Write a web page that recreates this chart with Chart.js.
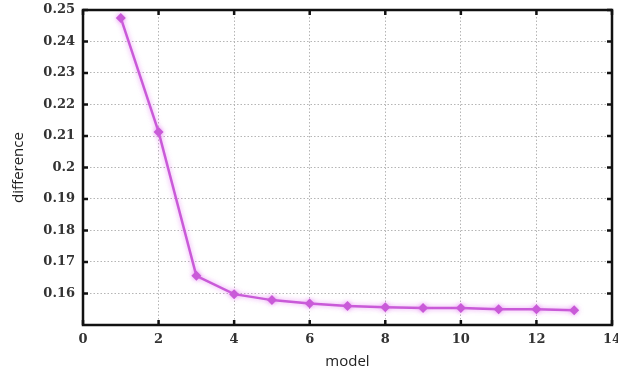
<!DOCTYPE html>
<html>
<head>
<meta charset="utf-8">
<script src="https://cdn.jsdelivr.net/npm/chart.js@4/dist/chart.umd.min.js"></script>
<style>
  html, body { margin: 0; padding: 0; background: #fff; }
  #wrap { width: 618px; height: 383px; }
</style>
</head>
<body>
<div id="wrap"><canvas id="diffChart"></canvas></div>
<script>
// model number and the difference
const models = [1, 2, 3, 4, 5, 6, 7, 8, 9, 10, 11, 12, 13];
const differences = [0.2475, 0.2113, 0.1656, 0.1598, 0.1579, 0.1568, 0.1560, 0.1556, 0.1554, 0.1554, 0.1550, 0.1550, 0.1547];
const xTicks = [0, 2, 4, 6, 8, 10, 12, 14];
const yTicks = [0.16, 0.17, 0.18, 0.19, 0.2, 0.21, 0.22, 0.23, 0.24, 0.25];

const lineColor = '#c95ad8';

// black frame with small inward ticks, like the gnuplot original
const framePlugin = {
  id: 'frame',
  afterDraw(chart) {
    const { ctx, chartArea: a, scales } = chart;
    ctx.save();
    ctx.strokeStyle = '#111';
    ctx.lineWidth = 2.5;
    ctx.strokeRect(a.left, a.top, a.right - a.left, a.bottom - a.top);
    xTicks.forEach(v => {
      const px = scales.x.getPixelForValue(v);
      ctx.beginPath();
      ctx.moveTo(px, a.bottom); ctx.lineTo(px, a.bottom - 5);
      ctx.moveTo(px, a.top); ctx.lineTo(px, a.top + 5);
      ctx.stroke();
    });
    yTicks.forEach(v => {
      const py = scales.y.getPixelForValue(v);
      ctx.beginPath();
      ctx.moveTo(a.left, py); ctx.lineTo(a.left + 5, py);
      ctx.moveTo(a.right, py); ctx.lineTo(a.right - 5, py);
      ctx.stroke();
    });
    ctx.restore();
  }
};

// soft glow on the line
const glowPlugin = {
  id: 'glow',
  beforeDatasetDraw(chart) {
    chart.ctx.save();
    chart.ctx.shadowColor = 'rgba(225, 110, 240, 0.7)';
    chart.ctx.shadowBlur = 5;
  },
  afterDatasetDraw(chart) {
    chart.ctx.restore();
  }
};

const tickFont = { family: '"DejaVu Serif"', size: 13, weight: 'bold' };
const titleFont = { family: '"Open Sans"', size: 15 };

const config = {
  type: 'line',
  data: {
    datasets: [{
      label: 'difference',
      data: models.map((m, i) => ({ x: m, y: differences[i] })),
      borderColor: lineColor,
      backgroundColor: lineColor,
      borderWidth: 2.5,
      pointStyle: 'rectRot',
      pointRadius: 5,
      pointBorderWidth: 0,
      fill: false,
      tension: 0
    }]
  },
  options: {
    responsive: true,
    maintainAspectRatio: false,
    animation: false,
    layout: { padding: { top: 10, right: 6, left: 0, bottom: 0 } },
    plugins: {
      legend: { display: false },
      tooltip: { enabled: false }
    },
    scales: {
      x: {
        type: 'linear',
        min: 0,
        max: 14,
        afterBuildTicks: s => { s.ticks = xTicks.map(v => ({ value: v })); },
        afterFit: s => { s.height = 58; s.paddingLeft = 0; s.paddingRight = 0; },
        ticks: { font: tickFont, color: '#333', padding: 7 },
        grid: { color: '#b5b5b5', lineWidth: 1, drawTicks: false },
        border: { display: false, dash: [1.5, 2] },
        title: {
          display: true,
          text: 'model',
          font: titleFont,
          color: '#222',
          padding: { top: 4, bottom: 12 }
        }
      },
      y: {
        min: 0.15,
        max: 0.25,
        afterBuildTicks: s => { s.ticks = yTicks.map(v => ({ value: v })); },
        afterFit: s => { s.width = 83; s.paddingTop = 0; s.paddingBottom = 0; },
        ticks: {
          font: tickFont,
          color: '#333',
          padding: 8,
          callback: v => String(Number(v.toFixed(2)))
        },
        grid: { color: '#b5b5b5', lineWidth: 1, drawTicks: false },
        border: { display: false, dash: [1.5, 2] },
        title: {
          display: true,
          text: 'difference',
          font: titleFont,
          color: '#222',
          padding: { top: 10, bottom: 4 }
        }
      }
    }
  },
  plugins: [glowPlugin, framePlugin]
};

const ctx = document.getElementById('diffChart').getContext('2d');
new Chart(ctx, config);
</script>
</body>
</html>
